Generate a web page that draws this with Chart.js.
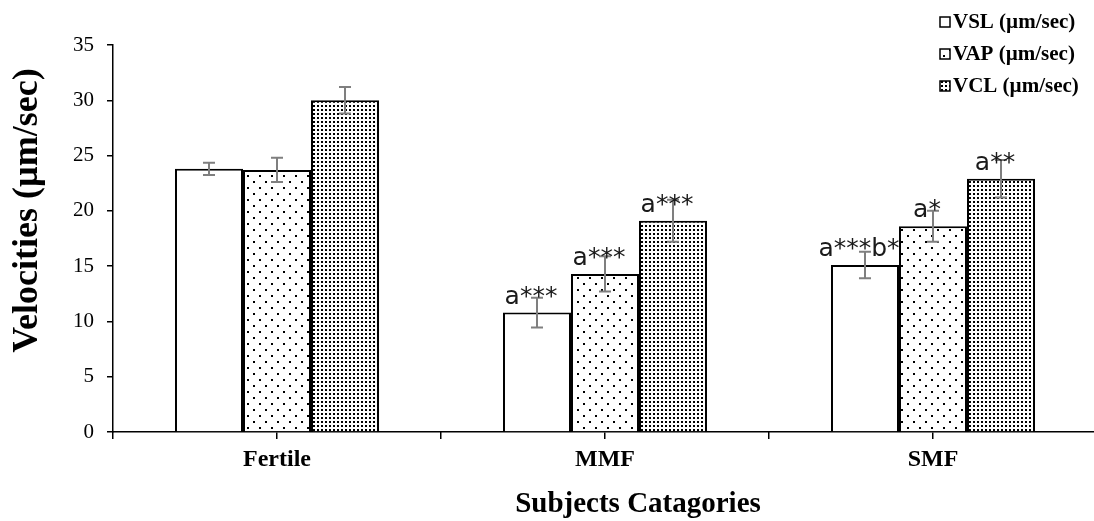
<!DOCTYPE html>
<html>
<head>
<meta charset="utf-8">
<script src="https://cdn.jsdelivr.net/npm/chart.js@4.4.1/dist/chart.umd.min.js"></script>
<style>
  html, body { margin: 0; padding: 0; background: #fff; overflow: hidden; }
</style>
</head>
<body>
<canvas id="chart" width="1100" height="521"></canvas>
<script>
const categories = ['Fertile', 'MMF', 'SMF'];
const seriesNames = ['VSL (µm/sec)', 'VAP (µm/sec)', 'VCL (µm/sec)'];
const vslValues = [23.8, 10.8, 15.1];
const vapValues = [23.7, 14.3, 18.6];
const vclValues = [30.0, 19.1, 22.9];
const vslErrors = [0.55, 1.35, 1.2];
const vapErrors = [1.1, 1.6, 1.4];
const vclErrors = [1.2, 1.9, 1.7];
const vslMarks = ['', 'a***', 'a***b*'];
const vapMarks = ['', 'a***', 'a*'];
const vclMarks = ['', 'a***', 'a**'];
const yTicks = [0, 5, 10, 15, 20, 25, 30, 35];
const xTitle = 'Subjects Catagories';
const yTitle = 'Velocities (µm/sec)';

const errors = [vslErrors, vapErrors, vclErrors];
const marks = [vslMarks, vapMarks, vclMarks];

const canvas = document.getElementById('chart');
const ctx = canvas.getContext('2d');

function makePattern(size, dots, dot) {
  const tile = document.createElement('canvas');
  tile.width = size;
  tile.height = size;
  const g = tile.getContext('2d');
  g.fillStyle = '#fff';
  g.fillRect(0, 0, size, size);
  g.fillStyle = '#000';
  dots.forEach(([x, y]) => g.fillRect(x, y, dot, dot));
  return ctx.createPattern(tile, 'repeat');
}

const fills = [
  '#ffffff',
  makePattern(12, [[1, 1], [7, 7]], 2),
  makePattern(4, [[1, 1]], 2),
];

const serif = 'Liberation Serif, Times New Roman, serif';

// error bars drawn from the y scale
const errorBars = {
  id: 'errorBars',
  afterDatasetsDraw(chart) {
    const c = chart.ctx;
    const y = chart.scales.y;
    c.save();
    c.strokeStyle = '#7f7f7f';
    c.lineWidth = 2;
    chart.data.datasets.forEach((ds, i) => {
      chart.getDatasetMeta(i).data.forEach((bar, j) => {
        const e = errors[i][j];
        const top = y.getPixelForValue(ds.data[j] + e);
        const bot = y.getPixelForValue(ds.data[j] - e);
        c.beginPath();
        c.moveTo(bar.x, top); c.lineTo(bar.x, bot);
        c.moveTo(bar.x - 6, top); c.lineTo(bar.x + 6, top);
        c.moveTo(bar.x - 6, bot); c.lineTo(bar.x + 6, bot);
        c.stroke();
      });
    });
    c.restore();
  },
};

const barMarks = {
  id: 'barMarks',
  afterDatasetsDraw(chart) {
    const c = chart.ctx;
    c.save();
    c.fillStyle = '#1a1a1a';
    c.font = '25px DejaVu Sans, Arial, sans-serif';
    c.textAlign = 'center';
    c.textBaseline = 'alphabetic';
    chart.data.datasets.forEach((ds, i) => {
      chart.getDatasetMeta(i).data.forEach((bar, j) => {
        if (marks[i][j]) c.fillText(marks[i][j], bar.x - 6, bar.y - 9);
      });
    });
    c.restore();
  },
};

// axis titles sit a little off the plot centre in the original
const axisTitles = {
  id: 'axisTitles',
  afterDraw(chart) {
    const c = chart.ctx;
    const area = chart.chartArea;
    c.save();
    c.fillStyle = '#000';
    c.textAlign = 'center';
    c.textBaseline = 'middle';
    c.font = 'bold 29px ' + serif;
    c.fillText(xTitle, (area.left + area.right) / 2 + 33, 505);
    c.translate(28, (area.top + area.bottom) / 2 - 28);
    c.rotate(-Math.PI / 2);
    c.font = 'bold 36px ' + serif;
    c.fillText(yTitle, 0, 0);
    c.restore();
  },
};

const boxLegend = {
  id: 'boxLegend',
  afterDraw(chart) {
    const c = chart.ctx;
    const rows = [22, 54, 86];
    c.save();
    c.font = 'bold 21px ' + serif;
    c.textBaseline = 'middle';
    seriesNames.forEach((name, i) => {
      c.fillStyle = fills[i];
      c.fillRect(940, rows[i] - 5, 10, 10);
      c.strokeStyle = '#000';
      c.lineWidth = 1.5;
      c.strokeRect(940, rows[i] - 5, 10, 10);
      c.fillStyle = '#000';
      c.fillText(name, 953, rows[i] + 1);
    });
    c.restore();
  },
};

const makeDataset = (label, data, i) => ({
  label,
  data,
  backgroundColor: fills[i],
  borderColor: '#000',
  borderWidth: 2,
  categoryPercentage: 0.622,
  barPercentage: 1,
});

new Chart(ctx, {
  type: 'bar',
  data: {
    labels: categories,
    datasets: [
      makeDataset(seriesNames[0], vslValues, 0),
      makeDataset(seriesNames[1], vapValues, 1),
      makeDataset(seriesNames[2], vclValues, 2),
    ],
  },
  options: {
    responsive: false,
    animation: false,
    layout: { padding: { top: 45, right: 3, left: 0, bottom: 0 } },
    plugins: {
      legend: { display: false },
      tooltip: { enabled: false },
    },
    scales: {
      x2: {
        type: 'category',
        position: 'bottom',
        weight: -1,
        offset: true,
        grid: { offset: true, drawOnChartArea: false, tickLength: 7, color: '#000', lineWidth: 1.5 },
        border: { display: false },
        ticks: { display: false },
        afterFit: scale => { scale.height = 0; },
      },
      x: {
        type: 'category',
        position: 'bottom',
        offset: true,
        grid: { offset: false, drawOnChartArea: false, tickLength: 7, color: '#000', lineWidth: 1.5 },
        border: { color: '#000', width: 1.5 },
        ticks: { color: '#000', padding: 6, maxRotation: 0, font: { family: serif, size: 24, weight: 'bold' } },
        afterFit: scale => { scale.height = 89; },
      },
      y: {
        min: 0,
        max: 35,
        afterBuildTicks: scale => { scale.ticks = yTicks.map(v => ({ value: v })); },
        grid: { drawOnChartArea: false, tickLength: 6, color: '#000', lineWidth: 1.5 },
        border: { color: '#000', width: 1.5 },
        ticks: { color: '#000', padding: 13, font: { family: serif, size: 21 } },
        afterFit: scale => { scale.width = 113; },
      },
    },
  },
  plugins: [errorBars, barMarks, axisTitles, boxLegend],
});
</script>
</body>
</html>
